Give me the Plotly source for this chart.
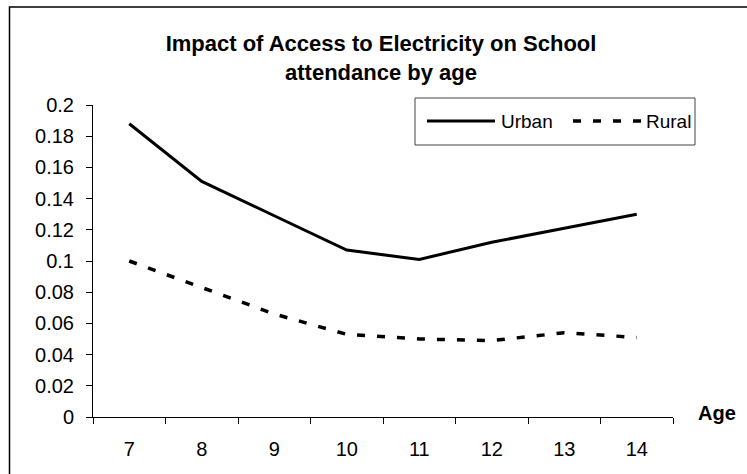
import plotly.graph_objects as go

# ---- data -------------------------------------------------------------
AGES = ["7", "8", "9", "10", "11", "12", "13", "14"]
URBAN = [0.188, 0.151, 0.129, 0.107, 0.101, 0.112, 0.121, 0.130]
RURAL = [0.100, 0.083, 0.066, 0.053, 0.050, 0.049, 0.054, 0.051]
Y_TICK_VALUES = [0, 0.02, 0.04, 0.06, 0.08, 0.1, 0.12, 0.14, 0.16, 0.18, 0.2]
Y_TICK_LABELS = ["0", "0.02", "0.04", "0.06", "0.08", "0.1",
                 "0.12", "0.14", "0.16", "0.18", "0.2"]
SERIES_NAMES = ["Urban", "Rural"]
TITLE = "Impact of Access to Electricity on School<br>attendance by age"
X_TITLE = "Age"

# ---- page geometry (pixels) -------------------------------------------
W, H = 747, 474
L, R, T, B = 93, 74, 105, 57
PW, PH = W - L - R, H - T - B
FONT = "Liberation Sans, Arial, sans-serif"


def px_x(px):
    """Horizontal pixel -> paper coordinate."""
    return (px - L) / PW


def px_y(py):
    """Vertical pixel (from top) -> paper coordinate."""
    return (H - B - py) / PH


URBAN_LINE = dict(color="black", width=3)
RURAL_LINE = dict(color="black", width=3.5, dash="8px,12px")

fig = go.Figure()
fig.add_trace(go.Scatter(x=AGES, y=URBAN, mode="lines", name=SERIES_NAMES[0],
                         line=URBAN_LINE, showlegend=False))
fig.add_trace(go.Scatter(x=AGES, y=RURAL, mode="lines", name=SERIES_NAMES[1],
                         line=RURAL_LINE, showlegend=False))

axis_common = dict(
    showline=True, linecolor="black", linewidth=1,
    ticks="outside", ticklen=6, tickcolor="black", tickwidth=1,
    showgrid=False, zeroline=False,
    tickfont=dict(family=FONT, size=20, color="black"),
)

# category axis: one slot per age, tick marks on slot boundaries
fig.update_xaxes(type="category", tickson="boundaries",
                 range=[-0.5, len(AGES) - 0.5],
                 ticklabelstandoff=14, **axis_common)
fig.update_yaxes(range=[0, 0.2], tickvals=Y_TICK_VALUES,
                 ticktext=Y_TICK_LABELS, ticklabelstandoff=8, **axis_common)

shapes = [
    # chart-area frame
    dict(type="rect", xref="paper", yref="paper",
         x0=px_x(9.5), x1=px_x(770), y0=px_y(500), y1=px_y(7),
         line=dict(color="black", width=1.5), fillcolor="rgba(0,0,0,0)"),
    # legend box
    dict(type="rect", xref="paper", yref="paper",
         x0=px_x(415), x1=px_x(695), y0=px_y(145), y1=px_y(98),
         line=dict(color="#444", width=1), fillcolor="white"),
    # legend samples
    dict(type="line", xref="paper", yref="paper",
         x0=px_x(427), x1=px_x(495), y0=px_y(121), y1=px_y(121),
         line=URBAN_LINE),
    dict(type="line", xref="paper", yref="paper",
         x0=px_x(573), x1=px_x(641), y0=px_y(121), y1=px_y(121),
         line=RURAL_LINE),
]

annotations = [
    dict(text=SERIES_NAMES[0], xref="paper", yref="paper",
         x=px_x(499), y=px_y(121), xanchor="left", yanchor="middle",
         showarrow=False, font=dict(family=FONT, size=19, color="black")),
    dict(text=SERIES_NAMES[1], xref="paper", yref="paper",
         x=px_x(644), y=px_y(121), xanchor="left", yanchor="middle",
         showarrow=False, font=dict(family=FONT, size=19, color="black")),
    dict(text="<b>%s</b>" % X_TITLE, xref="paper", yref="paper",
         x=px_x(696), y=px_y(413), xanchor="left", yanchor="middle",
         showarrow=False, font=dict(family=FONT, size=20, color="black")),
]

fig.update_layout(
    width=W, height=H,
    margin=dict(l=L, r=R, t=T, b=B, pad=0),
    paper_bgcolor="white", plot_bgcolor="white",
    title=dict(text="<b>%s</b>" % TITLE, x=381 / W, xanchor="center",
               y=1 - 51 / H, yanchor="middle", yref="container",
               font=dict(family=FONT, size=22, color="black")),
    shapes=shapes, annotations=annotations,
    showlegend=False,
)

fig.write_html("out.html")
